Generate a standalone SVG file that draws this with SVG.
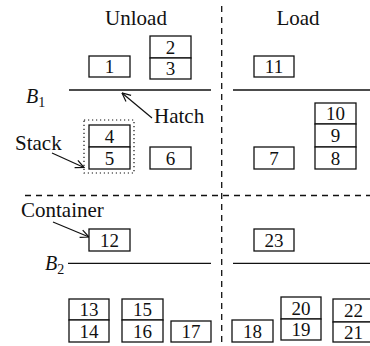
<svg xmlns="http://www.w3.org/2000/svg" width="370" height="346" viewBox="0 0 370 346" font-family="'Liberation Serif', 'DejaVu Serif', serif">
  <style>
    text { font-family: "Liberation Serif", "DejaVu Serif", serif; fill: #111; }
    .lbl { font-size: 21px; }
    .num { font-size: 19px; text-anchor: middle; }
    .bay { font-size: 20px; font-style: italic; }
    .sub { font-size: 14px; font-style: normal; }
    .box { fill: #fff; stroke: #111; stroke-width: 1.3; }
    .deck { stroke: #111; stroke-width: 1.3; fill: none; }
    .dash { stroke: #111; stroke-width: 1.3; stroke-dasharray: 6 5; fill: none; }
    .dot { stroke: #111; stroke-width: 1.2; stroke-dasharray: 1.2 2.8; fill: none; }
    .ptr { stroke: #111; stroke-width: 1.2; fill: none; marker-end: url(#tip); }
  </style>
  <defs>
    <marker id="tip" viewBox="0 0 10 10" refX="9.5" refY="5" markerWidth="10" markerHeight="10" markerUnits="userSpaceOnUse" orient="auto">
      <path d="M1,1 L9.5,5 L1,9" fill="none" stroke="#111" stroke-width="1.2"/>
    </marker>
  </defs>

  <!-- section headings -->
  <text class="lbl" x="136" y="25" text-anchor="middle">Unload</text>
  <text class="lbl" x="298" y="25" text-anchor="middle">Load</text>

  <!-- dividers and decks -->
  <g id="dividers">
    <line class="dash" x1="221.7" y1="6" x2="221.7" y2="346"/>
    <line class="dash" x1="25" y1="195.5" x2="370" y2="195.5"/>
  </g>
  <g id="bay-B1">
    <line class="deck" x1="69" y1="90" x2="211" y2="90"/>
    <line class="deck" x1="233" y1="90" x2="370" y2="90"/>
    <text class="bay" x="26" y="103">B<tspan class="sub" dy="4">1</tspan></text>
  </g>
  <g id="bay-B2">
    <line class="deck" x1="68" y1="263.3" x2="211" y2="263.3"/>
    <line class="deck" x1="233" y1="263.3" x2="370" y2="263.3"/>
    <text class="bay" x="45" y="270">B<tspan class="sub" dy="4">2</tspan></text>
  </g>

  <!-- annotations -->
  <g id="connectors">
    <line class="ptr" x1="152" y1="118" x2="122" y2="93"/>
    <line class="ptr" x1="52" y1="153" x2="84" y2="167.5"/>
    <line class="ptr" x1="53" y1="222" x2="89" y2="237"/>
  </g>
  <text class="lbl" x="154" y="123">Hatch</text>
  <text class="lbl" x="15" y="150">Stack</text>
  <text class="lbl" x="21" y="216.5">Container</text>

  <!-- stack outline -->
  <rect id="stack-outline" class="dot" x="84" y="120" width="50" height="53"/>

  <!-- containers -->
  <g id="c1"><rect class="box" x="89" y="56" width="41" height="21"/><text class="num" x="109.5" y="73">1</text></g>
  <g id="c2"><rect class="box" x="150" y="36" width="41" height="22"/><text class="num" x="170.5" y="53.5">2</text></g>
  <g id="c3"><rect class="box" x="150" y="58" width="41" height="21"/><text class="num" x="170.5" y="75">3</text></g>
  <g id="c11"><rect class="box" x="254" y="56" width="40" height="21"/><text class="num" x="274" y="73">11</text></g>
  <g id="c10"><rect class="box" x="315" y="103" width="41" height="21"/><text class="num" x="335.5" y="120">10</text></g>
  <g id="c9"><rect class="box" x="315" y="124" width="41" height="23"/><text class="num" x="335.5" y="142">9</text></g>
  <g id="c8"><rect class="box" x="315" y="147" width="41" height="22"/><text class="num" x="335.5" y="164.5">8</text></g>
  <g id="c7"><rect class="box" x="254" y="147" width="40" height="22"/><text class="num" x="274" y="164.5">7</text></g>
  <g id="c4"><rect class="box" x="89" y="125" width="41" height="22"/><text class="num" x="109.5" y="142.5">4</text></g>
  <g id="c5"><rect class="box" x="89" y="147" width="41" height="22"/><text class="num" x="109.5" y="164.5">5</text></g>
  <g id="c6"><rect class="box" x="150" y="147" width="41" height="22"/><text class="num" x="170.5" y="164.5">6</text></g>
  <g id="c12"><rect class="box" x="89" y="229" width="41" height="22"/><text class="num" x="109.5" y="246.5">12</text></g>
  <g id="c23"><rect class="box" x="254" y="229" width="40" height="22"/><text class="num" x="274" y="246.5">23</text></g>
  <g id="c13"><rect class="box" x="69" y="299" width="40" height="21"/><text class="num" x="89" y="316">13</text></g>
  <g id="c14"><rect class="box" x="69" y="320" width="40" height="22"/><text class="num" x="89" y="337.5">14</text></g>
  <g id="c15"><rect class="box" x="122" y="299" width="41" height="21"/><text class="num" x="142.5" y="316">15</text></g>
  <g id="c16"><rect class="box" x="122" y="320" width="41" height="22"/><text class="num" x="142.5" y="337.5">16</text></g>
  <g id="c17"><rect class="box" x="171" y="321" width="40" height="21"/><text class="num" x="191" y="338">17</text></g>
  <g id="c18"><rect class="box" x="232" y="320" width="41" height="22"/><text class="num" x="252.5" y="337.5">18</text></g>
  <g id="c20"><rect class="box" x="281" y="297" width="40" height="22"/><text class="num" x="301" y="314.5">20</text></g>
  <g id="c19"><rect class="box" x="281" y="319" width="40" height="21"/><text class="num" x="301" y="336">19</text></g>
  <g id="c22"><rect class="box" x="333" y="299" width="41" height="23"/><text class="num" x="353.5" y="317">22</text></g>
  <g id="c21"><rect class="box" x="333" y="322" width="41" height="20"/><text class="num" x="353.5" y="338.5">21</text></g>
</svg>
